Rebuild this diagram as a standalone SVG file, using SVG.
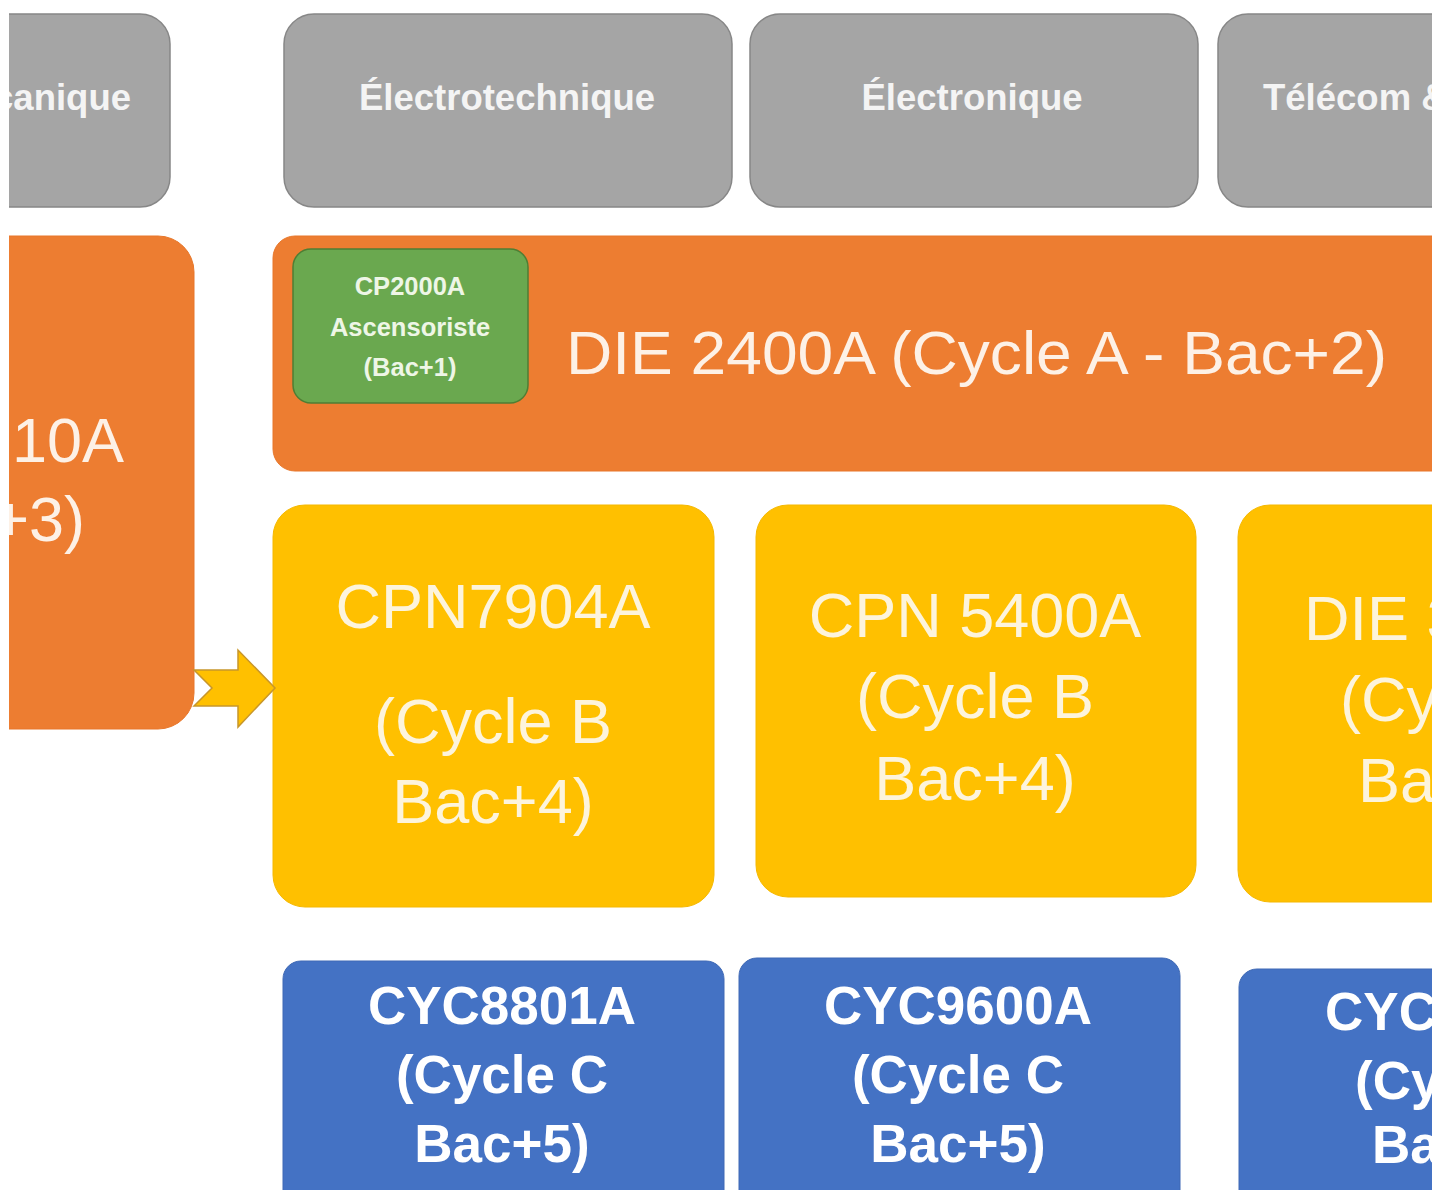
<svg xmlns="http://www.w3.org/2000/svg" width="1432" height="1190" viewBox="0 0 1432 1190">
<defs>
<style>
.gray{fill:#a5a5a5;stroke:#878787;stroke-width:1.5}
.orange{fill:#ed7d31;stroke:#e8772a;stroke-width:1}
.yellow{fill:#ffc000;stroke:#f5b800;stroke-width:1}
.blue{fill:#4472c4;stroke:#3f69b5;stroke-width:1}
.green{fill:#6aa84f;stroke:#4f7e34;stroke-width:1.5}
.tg{font-family:"Liberation Sans",Arial,sans-serif;font-weight:bold;font-size:36.5px;fill:#f4f4f4}
.to{font-family:"Liberation Sans",Arial,sans-serif;font-size:63px;fill:#fdf1e6}
.ty{font-family:"Liberation Sans",Arial,sans-serif;font-size:63px;fill:#fdf4dc}
.tb{font-family:"Liberation Sans",Arial,sans-serif;font-weight:bold;font-size:53px;fill:#ffffff}
.tgr{font-family:"Liberation Sans",Arial,sans-serif;font-weight:bold;font-size:25.5px;fill:#eef6e6}
.arrow{fill:#ffc000;stroke:#c8962a;stroke-width:1.5}
</style>
<clipPath id="view"><rect x="9" y="0" width="1423" height="1190"/></clipPath>
</defs>
<rect width="1432" height="1190" fill="#ffffff"/>
<g clip-path="url(#view)">
<g id="mecanique">
<rect class="gray" x="-200" y="14" width="370" height="193" rx="30"/>
<text class="tg" x="131" y="110" text-anchor="end">Mécanique</text>
</g>
<g id="electrotechnique">
<rect class="gray" x="284" y="14" width="448" height="193" rx="30"/>
<text class="tg" x="507" y="110" text-anchor="middle">Électrotechnique</text>
</g>
<g id="electronique">
<rect class="gray" x="750" y="14" width="448" height="193" rx="30"/>
<text class="tg" x="972" y="110" text-anchor="middle">Électronique</text>
</g>
<g id="telecom">
<rect class="gray" x="1218" y="14" width="448" height="193" rx="30"/>
<text class="tg" x="1263" y="110">Télécom &amp;</text>
</g>
<g id="left-orange">
<rect class="orange" x="-300" y="236" width="494" height="493" rx="36"/>
<text class="to" x="124" y="462" text-anchor="end">10A</text>
<text class="to" x="85" y="541" text-anchor="end">+3)</text>
</g>
<g id="die2400a">
<rect class="orange" x="273" y="236" width="1300" height="235" rx="22"/>
<text class="to" x="566" y="374" textLength="821" lengthAdjust="spacingAndGlyphs" style="font-size:61px">DIE 2400A (Cycle A - Bac+2)</text>
</g>
<g id="cp2000a">
<rect class="green" x="293" y="249" width="235" height="154" rx="18"/>
<text class="tgr" x="410" y="295" text-anchor="middle">CP2000A</text>
<text class="tgr" x="410" y="336" text-anchor="middle">Ascensoriste</text>
<text class="tgr" x="410" y="376" text-anchor="middle">(Bac+1)</text>
</g>
<g id="cpn7904a">
<rect class="yellow" x="273" y="505" width="441" height="402" rx="32"/>
<text class="ty" x="493" y="628" text-anchor="middle">CPN7904A</text>
<text class="ty" x="493" y="743" text-anchor="middle">(Cycle B</text>
<text class="ty" x="493" y="823" text-anchor="middle">Bac+4)</text>
</g>
<g id="cpn5400a">
<rect class="yellow" x="756" y="505" width="440" height="392" rx="32"/>
<text class="ty" x="975" y="637" text-anchor="middle">CPN 5400A</text>
<text class="ty" x="975" y="718" text-anchor="middle">(Cycle B</text>
<text class="ty" x="975" y="800" text-anchor="middle">Bac+4)</text>
</g>
<g id="die3">
<rect class="yellow" x="1238" y="505" width="440" height="397" rx="32"/>
<text class="ty" x="1304" y="640">DIE 3</text>
<text class="ty" x="1340" y="721">(Cy</text>
<text class="ty" x="1358" y="802">Ba</text>
</g>
<g id="cyc8801a">
<rect class="blue" x="283" y="961" width="441" height="260" rx="18"/>
<text class="tb" x="502" y="1024" text-anchor="middle">CYC8801A</text>
<text class="tb" x="502" y="1093" text-anchor="middle">(Cycle C</text>
<text class="tb" x="502" y="1162" text-anchor="middle">Bac+5)</text>
</g>
<g id="cyc9600a">
<rect class="blue" x="739" y="958" width="441" height="260" rx="18"/>
<text class="tb" x="958" y="1024" text-anchor="middle">CYC9600A</text>
<text class="tb" x="958" y="1093" text-anchor="middle">(Cycle C</text>
<text class="tb" x="958" y="1162" text-anchor="middle">Bac+5)</text>
</g>
<g id="cyc9">
<rect class="blue" x="1239" y="969" width="441" height="260" rx="18"/>
<text class="tb" x="1325" y="1030">CYC9</text>
<text class="tb" x="1355" y="1099">(Cy</text>
<text class="tb" x="1372" y="1163">Ba</text>
</g>
<g id="connectors">
<path class="arrow" d="M194,670 L238,670 L238,650 L275,688 L238,727 L238,706 L194,706 L212,688 Z"/>
</g>
</g>
</svg>
